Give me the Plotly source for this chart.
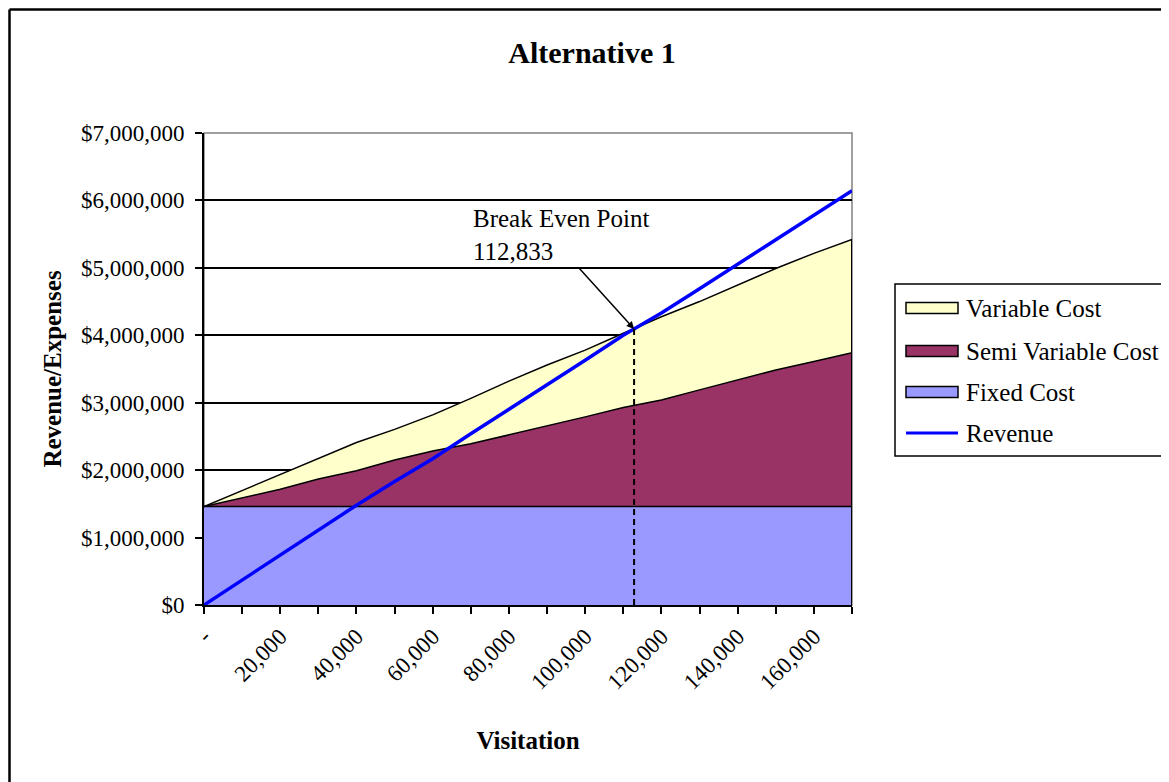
import numpy as np
import plotly.graph_objects as go

# ---- data ----
visitation = [0, 10000, 20000, 30000, 40000, 50000, 60000, 70000, 80000,
              90000, 100000, 110000, 120000, 130000, 140000, 150000, 160000, 170000]
fixed_cost = [1460000, 1460000, 1460000, 1460000, 1460000, 1460000, 1460000, 1460000, 1460000,
              1460000, 1460000, 1460000, 1460000, 1460000, 1460000, 1460000, 1460000, 1460000]
semi_variable_cost = [0, 130000, 256000, 410000, 530000, 690000, 824000, 930000, 1060000,
                      1195000, 1330000, 1470000, 1580000, 1730000, 1880000, 2025000, 2150000, 2280000]
variable_cost = [0, 105000, 224000, 305000, 420000, 455000, 536000, 675000, 800000,
                 905000, 990000, 1100000, 1235000, 1310000, 1405000, 1505000, 1605000, 1680000]
revenue = [0, 370000, 740000, 1110000, 1480000, 1830000, 2170000, 2540000, 2900000,
           3260000, 3630000, 4000000, 4330000, 4690000, 5050000, 5410000, 5780000, 6145000]

x_tick_values = visitation
x_tick_labels = ["-", "", "20,000", "", "40,000", "", "60,000", "", "80,000", "",
                 "100,000", "", "120,000", "", "140,000", "", "160,000", ""]

series_names = ["Variable Cost", "Semi Variable Cost", "Fixed Cost", "Revenue"]
series_colors = {"Variable Cost": "#FFFFCC", "Semi Variable Cost": "#993366",
                 "Fixed Cost": "#9999FF", "Revenue": "#0000FF"}

break_even_visits = 112833
break_even_label = "112,833"

FONT = "Liberation Serif, Times New Roman, serif"

# page has an 8px body offset; figure sized so it fits the 1169x782 window
OFF = 8
W, H = 1169 - OFF, 782 - OFF
# plot area in reference (window) pixels
PL, PR, PT, PB = 204, 852, 133, 605


def px(x):
    return (x - PL) / (PR - PL)


def py(y):
    return (PB - y) / (PB - PT)


fig = go.Figure()

fig.add_trace(go.Scatter(x=visitation, y=fixed_cost, name="Fixed Cost", mode="lines",
                         stackgroup="costs", fillcolor=series_colors["Fixed Cost"],
                         line=dict(color="black", width=1.5), showlegend=False))
fig.add_trace(go.Scatter(x=visitation, y=semi_variable_cost, name="Semi Variable Cost", mode="lines",
                         stackgroup="costs", fillcolor=series_colors["Semi Variable Cost"],
                         line=dict(color="black", width=1.5), showlegend=False))
fig.add_trace(go.Scatter(x=visitation, y=variable_cost, name="Variable Cost", mode="lines",
                         stackgroup="costs", fillcolor=series_colors["Variable Cost"],
                         line=dict(color="black", width=1.5), showlegend=False))
fig.add_trace(go.Scatter(x=visitation, y=revenue, name="Revenue", mode="lines",
                         line=dict(color=series_colors["Revenue"], width=3.5), showlegend=False))

total_cost = np.array(fixed_cost) + np.array(semi_variable_cost) + np.array(variable_cost)
be_y = float(np.interp(break_even_visits, visitation, revenue))

shapes = [
    # plot-area border (grey)
    dict(type="rect", xref="paper", yref="paper", x0=0, x1=1, y0=0, y1=1,
         line=dict(color="#808080", width=1.5), layer="below"),
    # right edge of stacked areas
    dict(type="line", xref="x", yref="y", x0=visitation[-1], x1=visitation[-1],
         y0=0, y1=float(total_cost[-1]), line=dict(color="black", width=2)),
    # break-even dashed drop line
    dict(type="line", xref="x", yref="y", x0=break_even_visits, x1=break_even_visits,
         y0=0, y1=be_y, line=dict(color="black", width=2, dash="6px,4px")),
    # chart-area outer border (top and left edges visible)
    dict(type="line", xref="paper", yref="paper",
         x0=px(9.5), x1=px(1200), y0=py(9.5), y1=py(9.5),
         line=dict(color="black", width=2.5)),
    dict(type="line", xref="paper", yref="paper",
         x0=px(9.5), x1=px(9.5), y0=py(9.5), y1=py(800),
         line=dict(color="black", width=2.5)),
    # legend box (left, top, bottom edges; right edge lies beyond the view)
    dict(type="path", xref="paper", yref="paper",
         path=f"M {px(1200)},{py(284)} L {px(895)},{py(284)} L {px(895)},{py(456)} L {px(1200)},{py(456)}",
         line=dict(color="black", width=1.5)),
]

annotations = [
    dict(x=break_even_visits, y=be_y, xref="x", yref="y", text="",
         showarrow=True, arrowhead=2, arrowsize=1, arrowwidth=1.5, arrowcolor="black",
         ax=-56, ay=-62),
    dict(x=px(471), y=py(218), xref="paper", yref="paper",
         text="Break Even Point", showarrow=False, xanchor="left", yanchor="middle",
         font=dict(family=FONT, size=25, color="black")),
    dict(x=px(471), y=py(251), xref="paper", yref="paper",
         text=break_even_label, showarrow=False, xanchor="left", yanchor="middle",
         font=dict(family=FONT, size=25, color="black")),
]

# custom legend entries (swatches + text)
legend_y = [308, 351, 392, 433]
for name, yy in zip(series_names, legend_y):
    if name == "Revenue":
        shapes.append(dict(type="line", xref="paper", yref="paper",
                           x0=px(906), x1=px(958), y0=py(yy), y1=py(yy),
                           line=dict(color=series_colors[name], width=3)))
    else:
        shapes.append(dict(type="rect", xref="paper", yref="paper",
                           x0=px(906), x1=px(958), y0=py(yy + 5.5), y1=py(yy - 5.5),
                           fillcolor=series_colors[name], line=dict(color="black", width=1.5)))
    annotations.append(dict(x=px(964), y=py(yy), xref="paper", yref="paper", text=name,
                            showarrow=False, xanchor="left", yanchor="middle",
                            font=dict(family=FONT, size=25, color="black")))

fig.update_layout(
    width=W, height=H,
    margin=dict(l=PL - OFF, r=W - (PR - OFF), t=PT - OFF, b=H - (PB - OFF)),
    paper_bgcolor="white", plot_bgcolor="white",
    font=dict(family=FONT, size=23, color="black"),
    title=dict(text="<b>Alternative 1</b>", x=(592 - OFF) / W, y=1 - (52 - OFF) / H,
               xref="container", yref="container", xanchor="center", yanchor="middle",
               font=dict(family=FONT, size=30, color="black")),
    xaxis=dict(range=[visitation[0], visitation[-1]], tickmode="array",
               tickvals=x_tick_values, ticktext=x_tick_labels, tickangle=-45,
               showgrid=False, zeroline=False, showline=True, linecolor="black", linewidth=2,
               ticks="outside", ticklen=7, tickwidth=2, tickcolor="black",
               tickfont=dict(family=FONT, size=23, color="black"),
               title=dict(text="<b>Visitation</b>", font=dict(family=FONT, size=25, color="black"),
                          standoff=38)),
    yaxis=dict(range=[0, 7000000], dtick=1000000, tickformat="$,.0f",
               showgrid=True, gridcolor="black", gridwidth=1.5, zeroline=False,
               showline=True, linecolor="black", linewidth=2,
               ticks="outside", ticklen=7, tickwidth=2, tickcolor="black",
               ticklabelstandoff=6,
               tickfont=dict(family=FONT, size=23, color="black"),
               title=dict(text="<b>Revenue/Expenses</b>", font=dict(family=FONT, size=25, color="black"),
                          standoff=12)),
    shapes=shapes,
    annotations=annotations,
    showlegend=False,
)

fig.write_html("out.html")
